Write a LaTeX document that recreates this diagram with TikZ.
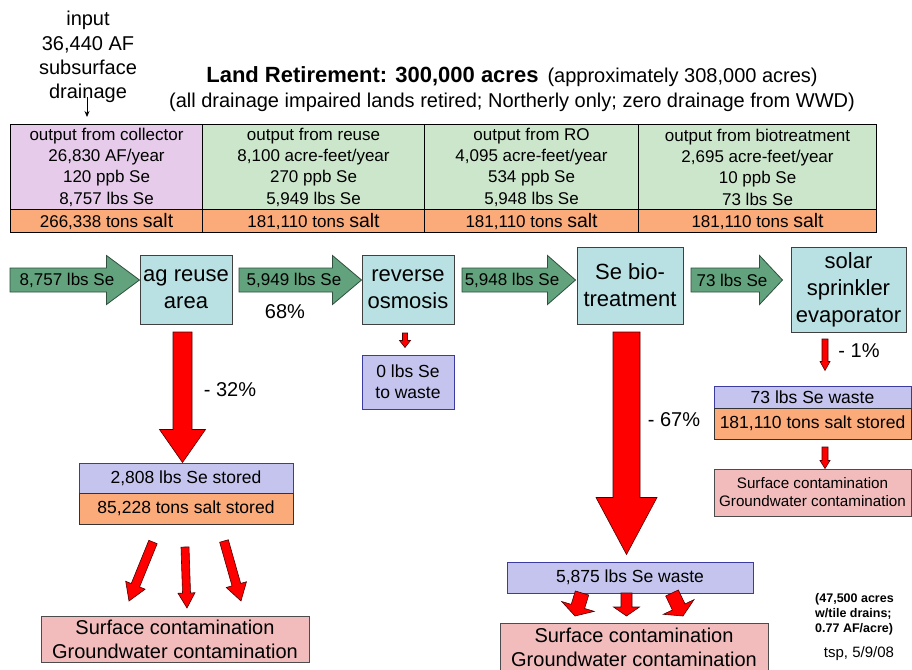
\documentclass[tikz,border=0pt]{standalone}
\usepackage{fontspec}
\setmainfont{Liberation Sans}
\usetikzlibrary{calc,arrows.meta}
\definecolor{pinkcell}{HTML}{E6CCEA}
\definecolor{greencell}{HTML}{CCE6CC}
\definecolor{orangecell}{HTML}{FBAA7A}
\definecolor{tealbox}{HTML}{B9E0E2}
\definecolor{lavbox}{HTML}{C4C4EE}
\definecolor{lavedge}{HTML}{3C3CA0}
\definecolor{contam}{HTML}{F2BCBC}
\definecolor{garrowfill}{HTML}{62A27C}
\definecolor{garrowedge}{HTML}{2F4F3F}
% #1 style, #2 from, #3 to, #4 body half width, #5 head half width, #6 head length
\newcommand\blockarrow[6]{%
  \path let \p1=($(#3)-(#2)$), \n1={atan2(\y1,\x1)}, \n2={veclen(\x1,\y1)} in
    \pgfextra{\xdef\baAng{\n1}\xdef\baLen{\n2}};
  \pgfmathsetmacro\baNeck{\baLen-#6}%
  \filldraw[#1, shift={(#2)}, rotate=\baAng]
    (0pt,-#4) -- (\baNeck pt,-#4) -- (\baNeck pt,-#5) -- (\baLen,0pt)
    -- (\baNeck pt,#5) -- (\baNeck pt,#4) -- (0pt,#4) -- cycle;
}
\begin{document}
\begin{tikzpicture}[x=1pt,y=-1pt,
  cell/.style={draw=black, line width=1.1pt, inner sep=0pt, align=center, anchor=north west,
    font=\fontsize{17}{21.3}\selectfont},
  procbox/.style={draw=black!75, line width=1pt, fill=tealbox, inner sep=0pt, align=center,
    font=\fontsize{22}{27}\selectfont},
  lavnode/.style={draw=lavedge, line width=1pt, fill=lavbox, inner sep=0pt, align=center,
    font=\fontsize{17.5}{21}\selectfont},
  saltnode/.style={draw=black!80, line width=1pt, fill=orangecell, inner sep=0pt, align=center,
    font=\fontsize{17.5}{21}\selectfont},
  contambox/.style={draw=black!70, line width=1pt, fill=contam, inner sep=0pt, align=center},
  greenarrow/.style={fill=garrowfill, draw=garrowedge, line width=0.8pt},
  redarrow/.style={fill=red, draw=black!70!red, line width=0.6pt},
  lbl/.style={inner sep=0pt, align=center},
  big/.style={font=\fontsize{20}{24.3}\selectfont},
  arrlbl/.style={inner sep=0pt, font=\fontsize{17}{20}\selectfont},
  pct/.style={inner sep=0pt, font=\fontsize{20}{24}\selectfont}
]
\fill[white] (0,0) rectangle (912,669);
\useasboundingbox (0,0) rectangle (912,669);

% header
\node[lbl, big] (inp) at (88,57) {input\\36,440 AF\\subsurface\\drainage};
\coordinate (ia1) at (87,97);
\coordinate (ia2) at (87,117);
\draw[-{Stealth[length=6pt,width=5pt]}, line width=0.8pt] (ia1) -- (ia2);
\node[lbl, font=\fontsize{20}{24}\selectfont] (title) at (512,77)
  {{\bfseries\fontsize{22}{24}\selectfont Land Retirement: 300,000 acres}\hspace{9pt}(approximately 308,000 acres)};
\node[lbl, font=\fontsize{20}{24}\selectfont] (subtitle) at (512,102)
  {(all drainage impaired lands retired; Northerly only; zero drainage from WWD)};

% table
\node[cell, fill=pinkcell, minimum width=192pt, minimum height=85pt] (c1) at (10,124)
  {output from collector\\26,830 AF/year\\120 ppb Se\\8,757 lbs Se};
\node[cell, fill=greencell, minimum width=222pt, minimum height=85pt] (c2) at (202,124)
  {output from reuse\\8,100 acre-feet/year\\270 ppb Se\\5,949 lbs Se};
\node[cell, fill=greencell, minimum width=214pt, minimum height=85pt] (c3) at (424,124)
  {output from RO\\4,095 acre-feet/year\\534 ppb Se\\5,948 lbs Se};
\node[cell, fill=greencell, minimum width=238pt, minimum height=85pt] (c4) at (638,124)
  {output from biotreatment\\2,695 acre-feet/year\\10 ppb Se\\73 lbs Se};
\node[cell, fill=orangecell, minimum width=192pt, minimum height=23pt] (s1) at (10,209)
  {266,338 tons {\fontsize{19.5}{21}\selectfont salt}};
\node[cell, fill=orangecell, minimum width=222pt, minimum height=23pt] (s2) at (202,209)
  {181,110 tons {\fontsize{19.5}{21}\selectfont salt}};
\node[cell, fill=orangecell, minimum width=214pt, minimum height=23pt] (s3) at (424,209)
  {181,110 tons {\fontsize{19.5}{21}\selectfont salt}};
\node[cell, fill=orangecell, minimum width=238pt, minimum height=23pt] (s4) at (638,209)
  {181,110 tons {\fontsize{19.5}{21}\selectfont salt}};

% process boxes
\node[procbox, minimum width=92pt, minimum height=69pt] (ag) at (186,289.5) {ag reuse\\area};
\node[procbox, minimum width=92pt, minimum height=69pt] (ro) at (408,289.5) {reverse\\osmosis};
\node[procbox, minimum width=106pt, minimum height=77pt] (bio) at (630,285.5) {Se bio-\\treatment};
\node[procbox, minimum width=115pt, minimum height=85pt] (solar) at (848.5,289.5) {solar\\sprinkler\\evaporator};

% result boxes
\node[lavnode, minimum width=92pt, minimum height=54pt] (rowaste) at (408,382) {0 lbs Se\\to waste};
\node[lavnode, minimum width=214pt, minimum height=30pt] (agse) at (186,478) {2,808 lbs Se stored};
\node[saltnode, minimum width=214pt, minimum height=31pt] (agsalt) at (186,508.5) {85,228 tons salt stored};
\node[contambox, minimum width=268pt, minimum height=46pt, font=\fontsize{20}{24}\selectfont] (agcont) at (175,639)
  {Surface contamination\\Groundwater contamination};
\node[lavnode, minimum width=197pt, minimum height=22pt] (solse) at (812.5,397) {73 lbs Se waste};
\node[saltnode, minimum width=197pt, minimum height=31pt] (solsalt) at (812.5,423.5) {181,110 tons salt stored};
\node[contambox, minimum width=197pt, minimum height=47pt, font=\fontsize{15.2}{18}\selectfont] (solcont) at (812.5,492.5)
  {Surface contamination\\Groundwater contamination};
\node[lavnode, minimum width=246pt, minimum height=31pt] (biose) at (630,577.5) {5,875 lbs Se waste};
\node[contambox, minimum width=268pt, minimum height=48pt, font=\fontsize{20}{24}\selectfont] (biocont) at (634,647)
  {Surface contamination\\Groundwater contamination};

% green flow arrows
\coordinate (g1s) at (10,280);   \coordinate (g1e) at (ag.west |- g1s);
\coordinate (g2s) at (239,280);  \coordinate (g2e) at (ro.west |- g2s);
\coordinate (g3s) at (462,280);  \coordinate (g3e) at ($(bio.west |- g3s)+(-1,0)$);
\coordinate (g4s) at (691,280);  \coordinate (g4e) at ($(solar.west |- g4s)+(-8,0)$);
\blockarrow{greenarrow}{g1s}{g1e}{12pt}{24.5pt}{33pt}
\blockarrow{greenarrow}{g2s}{g2e}{12pt}{24.5pt}{29pt}
\blockarrow{greenarrow}{g3s}{g3e}{12pt}{24.5pt}{28pt}
\blockarrow{greenarrow}{g4s}{g4e}{12pt}{24.5pt}{23pt}
\node[arrlbl] (l1) at (67,280) {8,757 lbs Se};
\node[arrlbl] (l2) at (294,280) {5,949 lbs Se};
\node[arrlbl] (l3) at (512,280) {5,948 lbs Se};
\node[arrlbl] (l4) at (732,280) {73 lbs Se};

% red loss arrows
\coordinate (r1s) at (182.5,332); \coordinate (r1e) at (r1s |- agse.north);
\blockarrow{redarrow}{r1s}{r1e}{9.5pt}{23pt}{33pt}
\coordinate (r2s) at (626.5,332); \coordinate (r2e) at ($(r2s |- biose.north)+(0,-7)$);
\blockarrow{redarrow}{r2s}{r2e}{13.5pt}{30.5pt}{57pt}
\coordinate (r3s) at (405,333); \coordinate (r3e) at ($(r3s |- rowaste.north)+(0,-7)$);
\blockarrow{redarrow}{r3s}{r3e}{2.5pt}{5.5pt}{7pt}
\coordinate (r4s) at (825,339); \coordinate (r4e) at ($(r4s |- solse.north)+(0,-15)$);
\blockarrow{redarrow}{r4s}{r4e}{3pt}{5pt}{9pt}
\coordinate (r5s) at (825,447); \coordinate (r5e) at (r5s |- solcont.north);
\blockarrow{redarrow}{r5s}{r5e}{3pt}{5pt}{8pt}

% spreading arrows below ag storage
\coordinate (a1s) at (153,542); \coordinate (a1e) at (129,601);
\coordinate (a2s) at (185,547); \coordinate (a2e) at (187,608);
\coordinate (a3s) at (224,541); \coordinate (a3e) at (241,601);
\blockarrow{redarrow}{a1s}{a1e}{4.5pt}{10.5pt}{17pt}
\blockarrow{redarrow}{a2s}{a2e}{4pt}{8.5pt}{15pt}
\blockarrow{redarrow}{a3s}{a3e}{4.5pt}{10.5pt}{17pt}

% spreading arrows below bio waste
\coordinate (b1s) at (582,593); \coordinate (b1e) at (575,616);
\coordinate (b2s) at (626.5,593); \coordinate (b2e) at (626.5,616);
\coordinate (b3s) at (672,593); \coordinate (b3e) at (683,616);
\blockarrow{redarrow}{b1s}{b1e}{7pt}{17pt}{10pt}
\blockarrow{redarrow}{b2s}{b2e}{5.5pt}{13pt}{9pt}
\blockarrow{redarrow}{b3s}{b3e}{7pt}{17pt}{10pt}

% percentages
\node[pct] (p68) at (285,312) {68\%};
\node[pct] (p32) at (230,390) {- 32\%};
\node[pct] (p67) at (674,420) {- 67\%};
\node[pct] (p1) at (859,351) {- 1\%};

% notes
\node[anchor=west, align=left, inner sep=0pt, font=\bfseries\fontsize{12.5}{15}\selectfont] (note) at (815,614)
  {(47,500 acres\\w/tile drains;\\0.77 AF/acre)};
\node[inner sep=0pt, font=\fontsize{15}{18}\selectfont] (tsp) at (859,654) {tsp, 5/9/08};
\end{tikzpicture}
\end{document}
